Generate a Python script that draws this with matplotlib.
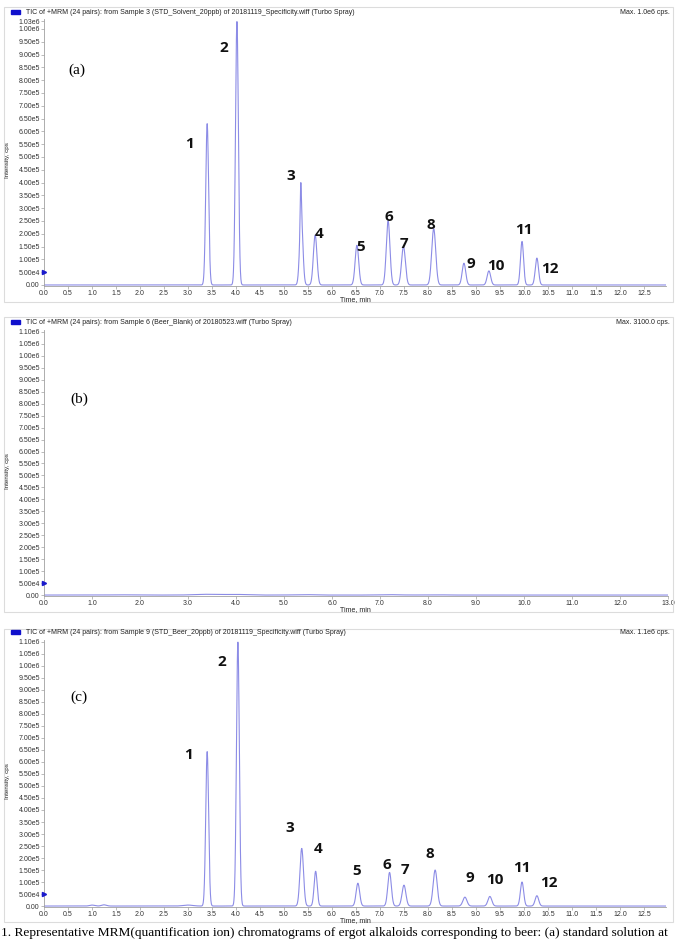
import numpy as np
import matplotlib
matplotlib.use("Agg")
import matplotlib.pyplot as plt
from matplotlib.patches import Rectangle

plt.rcParams.update({
    "font.family": ["Liberation Sans", "DejaVu Sans"],
    "font.size": 5,
})

W, H = 676, 943

# peak tables: retention time (min), height (cps), width (min)
a_times = [3.40, 4.02, 5.35, 5.36, 5.65, 6.52, 7.17, 7.49, 8.12, 8.75, 9.27, 9.96, 10.27]
a_heights = [6.30e5, 1.03e6, 1.45e5, 2.65e5, 1.95e5, 1.55e5, 2.50e5, 1.50e5, 2.20e5, 0.85e5, 0.55e5, 1.70e5, 1.05e5]
a_widths = [0.030, 0.030, 0.012, 0.034, 0.037, 0.037, 0.038, 0.040, 0.042, 0.037, 0.037, 0.032, 0.034]
a_labels = ["1", "2", "3", "4", "5", "6", "7", "8", "9", "10", "11", "12"]
a_label_x = [3.04, 3.75, 5.15, 5.73, 6.60, 7.19, 7.50, 8.06, 8.90, 9.42, 10.00, 10.54]
a_label_y = [5.49e5, 9.26e5, 4.24e5, 1.98e5, 1.48e5, 2.65e5, 1.60e5, 2.33e5, 0.82e5, 0.74e5, 2.14e5, 0.62e5]

b_times = [1.6, 3.4, 4.0, 5.4, 7.2, 8.1]
b_heights = [900, 3100, 2500, 1800, 1500, 1200]
b_widths = [0.2, 0.25, 0.2, 0.2, 0.2, 0.2]

c_times = [1.0, 1.25, 3.0, 3.40, 4.04, 5.37, 5.66, 6.54, 7.20, 7.50, 8.15, 8.77, 9.29, 9.96, 10.27]
c_heights = [4.0e3, 5.0e3, 4.0e3, 6.43e5, 1.10e6, 2.40e5, 1.45e5, 0.95e5, 1.40e5, 0.87e5, 1.50e5, 0.37e5, 0.40e5, 1.00e5, 0.43e5]
c_widths = [0.05, 0.05, 0.1, 0.030, 0.030, 0.037, 0.032, 0.037, 0.037, 0.040, 0.042, 0.042, 0.040, 0.034, 0.037]
c_labels = a_labels
c_label_x = [3.02, 3.71, 5.12, 5.71, 6.52, 7.15, 7.52, 8.04, 8.88, 9.40, 9.96, 10.52]
c_label_y = [6.27e5, 1.017e6, 3.24e5, 2.37e5, 1.45e5, 1.70e5, 1.50e5, 2.16e5, 1.16e5, 1.08e5, 1.58e5, 0.95e5]

titles = [
    "TIC of +MRM (24 pairs): from Sample 3 (STD_Solvent_20ppb) of 20181119_Specificity.wiff (Turbo Spray)",
    "TIC of +MRM (24 pairs): from Sample 6 (Beer_Blank) of 20180523.wiff (Turbo Spray)",
    "TIC of +MRM (24 pairs): from Sample 9 (STD_Beer_20ppb) of 20181119_Specificity.wiff (Turbo Spray)",
]
max_texts = ["Max. 1.0e6 cps.", "Max. 3100.0 cps.", "Max. 1.1e6 cps."]
panel_tags = ["(a)", "(b)", "(c)"]

LINE = "#8c8ce6"
GRAY = "#a0a0a0"


def px_rect(x0, y0, x1, y1):
    # pixel box (top-left origin) -> figure fraction [l, b, w, h]
    return [x0 / W, 1 - y1 / H, (x1 - x0) / W, (y1 - y0) / H]


def trace(t, times, heights, widths):
    y = np.zeros_like(t)
    for c, h, w in zip(times, heights, widths):
        y += h * np.exp(-0.5 * ((t - c) / w) ** 2)
    return y


def yfmt(v):
    if v == 0:
        return "0.00"
    e = int(np.floor(np.log10(v)))
    return f"{v / 10 ** e:.2f}e{e}"


fig = plt.figure(figsize=(W / 100, H / 100), dpi=100)

panels = [
    dict(frame=(4, 7, 673, 302), ax=(44, 19, 666, 286), xlim=(0, 12.96), ylim=(-4e3, 1.039e6),
         xt=np.arange(0, 12.51, 0.5), yt=list(np.arange(0, 1.0001e6, 5e4)) + [1.03e6],
         data=(a_times, a_heights, a_widths), labels=(a_labels, a_label_x, a_label_y),
         tag=(77, 70), title_y=12),
    dict(frame=(4, 317, 673, 612), ax=(44, 330, 668, 596), xlim=(0, 13.0), ylim=(-4e3, 1.108e6),
         xt=np.arange(0, 13.01, 1.0), yt=list(np.arange(0, 1.1001e6, 5e4)),
         data=(b_times, b_heights, b_widths), labels=None,
         tag=(79, 399), title_y=322),
    dict(frame=(4, 629, 673, 922), ax=(44, 640, 666, 907), xlim=(0, 12.96), ylim=(-4e3, 1.108e6),
         xt=np.arange(0, 12.51, 0.5), yt=list(np.arange(0, 1.1001e6, 5e4)),
         data=(c_times, c_heights, c_widths), labels=(c_labels, c_label_x, c_label_y),
         tag=(79, 697), title_y=632),
]

for i, p in enumerate(panels):
    fx0, fy0, fx1, fy1 = p["frame"]
    fig.patches.append(Rectangle((fx0 / W, 1 - fy1 / H), (fx1 - fx0) / W, (fy1 - fy0) / H,
                                 transform=fig.transFigure, fill=False, edgecolor="#dcdcdc", lw=0.8))

    ax = fig.add_axes(px_rect(*p["ax"]))
    t = np.linspace(p["xlim"][0], p["xlim"][1], 4000)
    ax.plot(t, trace(t, *p["data"]), color=LINE, lw=0.8)
    ax.set_xlim(*p["xlim"])
    ax.set_ylim(*p["ylim"])
    ax.set_xticks(p["xt"])
    ax.set_xticklabels([f"{v:.1f}" for v in p["xt"]])
    ax.set_yticks(p["yt"])
    ax.set_yticklabels([yfmt(v) for v in p["yt"]])
    for s in ["top", "right"]:
        ax.spines[s].set_visible(False)
    for s in ["left", "bottom"]:
        ax.spines[s].set_color(GRAY)
        ax.spines[s].set_linewidth(0.6)
    ax.tick_params(axis="both", length=2, width=0.5, color=GRAY, labelsize=5,
                   labelcolor="#333333", pad=1)
    ax.set_facecolor("none")

    # blue arrow marker on the y axis at 5e4
    ax.plot([0], [5e4], marker=">", ms=3, color="#1a1acc", clip_on=False, zorder=5)

    if p["labels"] is not None:
        for lab, lx, ly in zip(*p["labels"]):
            ax.text(lx, ly, lab, fontsize=11, fontweight="bold", color="#111111",
                    ha="center", va="center", family=["Open Sans", "DejaVu Sans"])

    tx, ty = p["tag"]
    fig.text(tx / W, 1 - ty / H, panel_tags[i], fontsize=11, ha="center", va="center",
             family=["Liberation Serif", "DejaVu Serif"])

    ty0 = p["title_y"]
    fig.patches.append(Rectangle((11 / W, 1 - (ty0 + 2) / H), 9 / W, 4 / H,
                                 transform=fig.transFigure, color="#1010cc"))
    fig.text(26 / W, 1 - ty0 / H, titles[i], fontsize=5, va="center", ha="left", color="#222222")
    fig.text(670 / W, 1 - ty0 / H, max_texts[i], fontsize=5, va="center", ha="right", color="#222222")
    ay0, ay1 = p["ax"][1], p["ax"][3]
    fig.text(340 / W, 1 - (ay1 + 13.5) / H, "Time, min", fontsize=5, va="center", ha="left",
             color="#222222")
    fig.text(8 / W, 1 - ((ay0 + ay1) / 2 + 8) / H, "Intensity, cps", fontsize=4.5, rotation=90,
             va="center", ha="center", color="#222222")

fig.text(1 / W, 1 - 927 / H,
         "1. Representative MRM(quantification ion) chromatograms of ergot alkaloids "
         "corresponding to beer: (a) standard solution at",
         fontsize=9.6, va="top", ha="left", family=["Liberation Serif", "DejaVu Serif"])

fig.savefig("out.png", dpi=100, facecolor="white")
